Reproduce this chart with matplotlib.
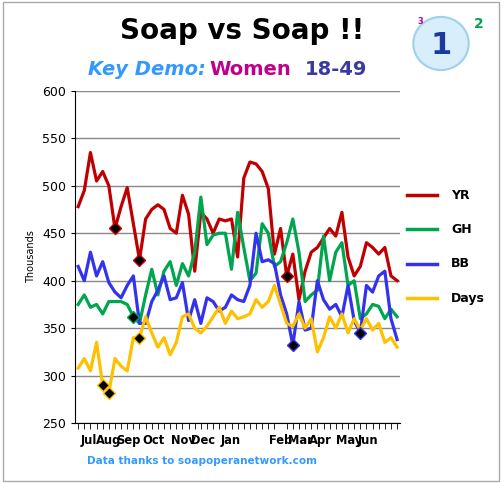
import numpy as np
import matplotlib.pyplot as plt
from matplotlib.patches import Circle

yr = [478, 495, 535, 505, 515, 500, 455, 478, 498, 460, 422, 465, 475, 480, 475, 455, 450, 490, 470, 410,
      472, 465, 450, 465, 463, 465, 425, 508, 525, 523, 515, 497, 428, 455, 405, 428, 380, 410, 430, 435,
      445, 455, 447, 472, 425, 405, 415, 440, 435, 428, 435, 405, 400]
gh = [375, 385, 372, 375, 365, 378, 378, 378, 375, 362, 355, 385, 412, 385, 410, 420, 395, 418, 405, 430,
      488, 438, 448, 450, 450, 412, 472, 435, 400, 408, 460, 450, 415, 420, 440, 465, 430, 378, 385, 390,
      447, 400, 430, 440, 395, 400, 360, 365, 375, 373, 360, 370, 362]
bb = [415, 400, 430, 405, 420, 398, 388, 382, 395, 405, 355, 355, 378, 390, 405, 380, 382, 398, 358, 380,
      355, 382, 378, 368, 372, 385, 380, 378, 395, 450, 420, 422, 418, 385, 365, 332, 378, 348, 350, 400,
      380, 370, 375, 362, 395, 358, 345, 395, 388, 405, 410, 360, 338]
days = [308, 318, 305, 335, 290, 282, 318, 310, 305, 340, 340, 362, 345, 330, 340, 322, 335, 362, 365, 350,
        345, 352, 362, 372, 355, 368, 360, 362, 365, 380, 372, 378, 395, 375, 355, 352, 365, 350, 360, 325,
        340, 362, 350, 365, 345, 360, 348, 360, 348, 355, 335, 340, 330]
months = ["Jul", "Aug", "Sep", "Oct", "Nov", "Dec", "Jan", "Feb", "Mar", "Apr", "May", "Jun"]
month_pos = [1.8, 4.9, 8.1, 12.3, 17.2, 20.4, 24.8, 33.0, 36.2, 39.5, 44.2, 47.3]
# (series, week index) of the highlighted weeks
marks = [("yr", 6), ("yr", 10), ("days", 4), ("days", 5), ("gh", 9), ("days", 10),
         ("yr", 34), ("bb", 35), ("bb", 46)]

series = {"yr": yr, "gh": gh, "bb": bb, "days": days}
colors = {"yr": "#c00000", "gh": "#00a550", "bb": "#3333ee", "days": "#ffc000"}
names = {"yr": "YR", "gh": "GH", "bb": "BB", "days": "Days"}

fig = plt.figure(figsize=(5.04, 4.83), dpi=100)
ax = fig.add_axes([0.149, 0.124, 0.645, 0.688])
x = np.arange(len(yr))
for k in ["yr", "gh", "bb", "days"]:
    ax.plot(x, series[k], color=colors[k], lw=2.3)
for k, i in marks:
    ax.plot(i, series[k][i], marker="D", ms=6, color="black", mec=colors[k], mew=1, zorder=5)

ax.set_ylim(250, 600)
ax.set_xlim(-0.5, len(yr) - 0.5)
ax.set_yticks(range(250, 601, 50))
ax.tick_params(axis="y", labelsize=9, length=3)
ax.set_xticks(np.arange(len(yr)), minor=True)
ax.set_xticks(month_pos)
ax.set_xticklabels(months, fontsize=8.3, fontweight="bold")
ax.tick_params(axis="x", which="major", length=0, pad=8)
ax.tick_params(axis="x", which="minor", length=4)
ax.grid(axis="y", color="#888888", lw=1)
ax.set_axisbelow(True)
for s in ["top", "right"]:
    ax.spines[s].set_visible(False)
ax.set_ylabel("Thousands", fontsize=7)

# legend on the right
for j, k in enumerate(["yr", "gh", "bb", "days"]):
    yy = 0.596 - j * 0.071
    fig.lines.append(plt.Line2D([0.808, 0.868], [yy, yy], color=colors[k], lw=2.5, transform=fig.transFigure))
    fig.text(0.895, yy, names[k], fontsize=9, fontweight="bold", va="center")

fig.text(0.48, 0.935, "Soap vs Soap !!", fontsize=20, fontweight="bold", ha="center", va="center")
fig.text(0.175, 0.856, "Key Demo:", fontsize=14, fontweight="bold", fontstyle="italic", color="#3399ff", va="center")
fig.text(0.415, 0.856, "Women", fontsize=14, fontweight="bold", color="#c0008a", va="center")
fig.text(0.605, 0.856, "18-49", fontsize=14, fontweight="bold", color="#3a3aa0", va="center")
fig.text(0.4, 0.04, "Data thanks to soapoperanetwork.com", fontsize=7.5, fontweight="bold",
         color="#3399ff", ha="center")

# bubble logo
fig.patches.append(Circle((0.875, 0.91), 0.055, transform=fig.transFigure, fc="#d8eefa", ec="#9fd0ee", lw=1.5))
fig.text(0.875, 0.905, "1", fontsize=22, fontweight="bold", color="#1a3aa0", ha="center", va="center")
fig.text(0.95, 0.95, "2", fontsize=10, fontweight="bold", color="#00a550", ha="center", va="center")
fig.text(0.835, 0.955, "3", fontsize=6, fontweight="bold", color="#c0008a", ha="center", va="center")

fig.patches.append(plt.Rectangle((0.005, 0.005), 0.985, 0.99, transform=fig.transFigure,
                                 fill=False, ec="#aaaaaa", lw=1))
fig.savefig("out.png", dpi=100)
